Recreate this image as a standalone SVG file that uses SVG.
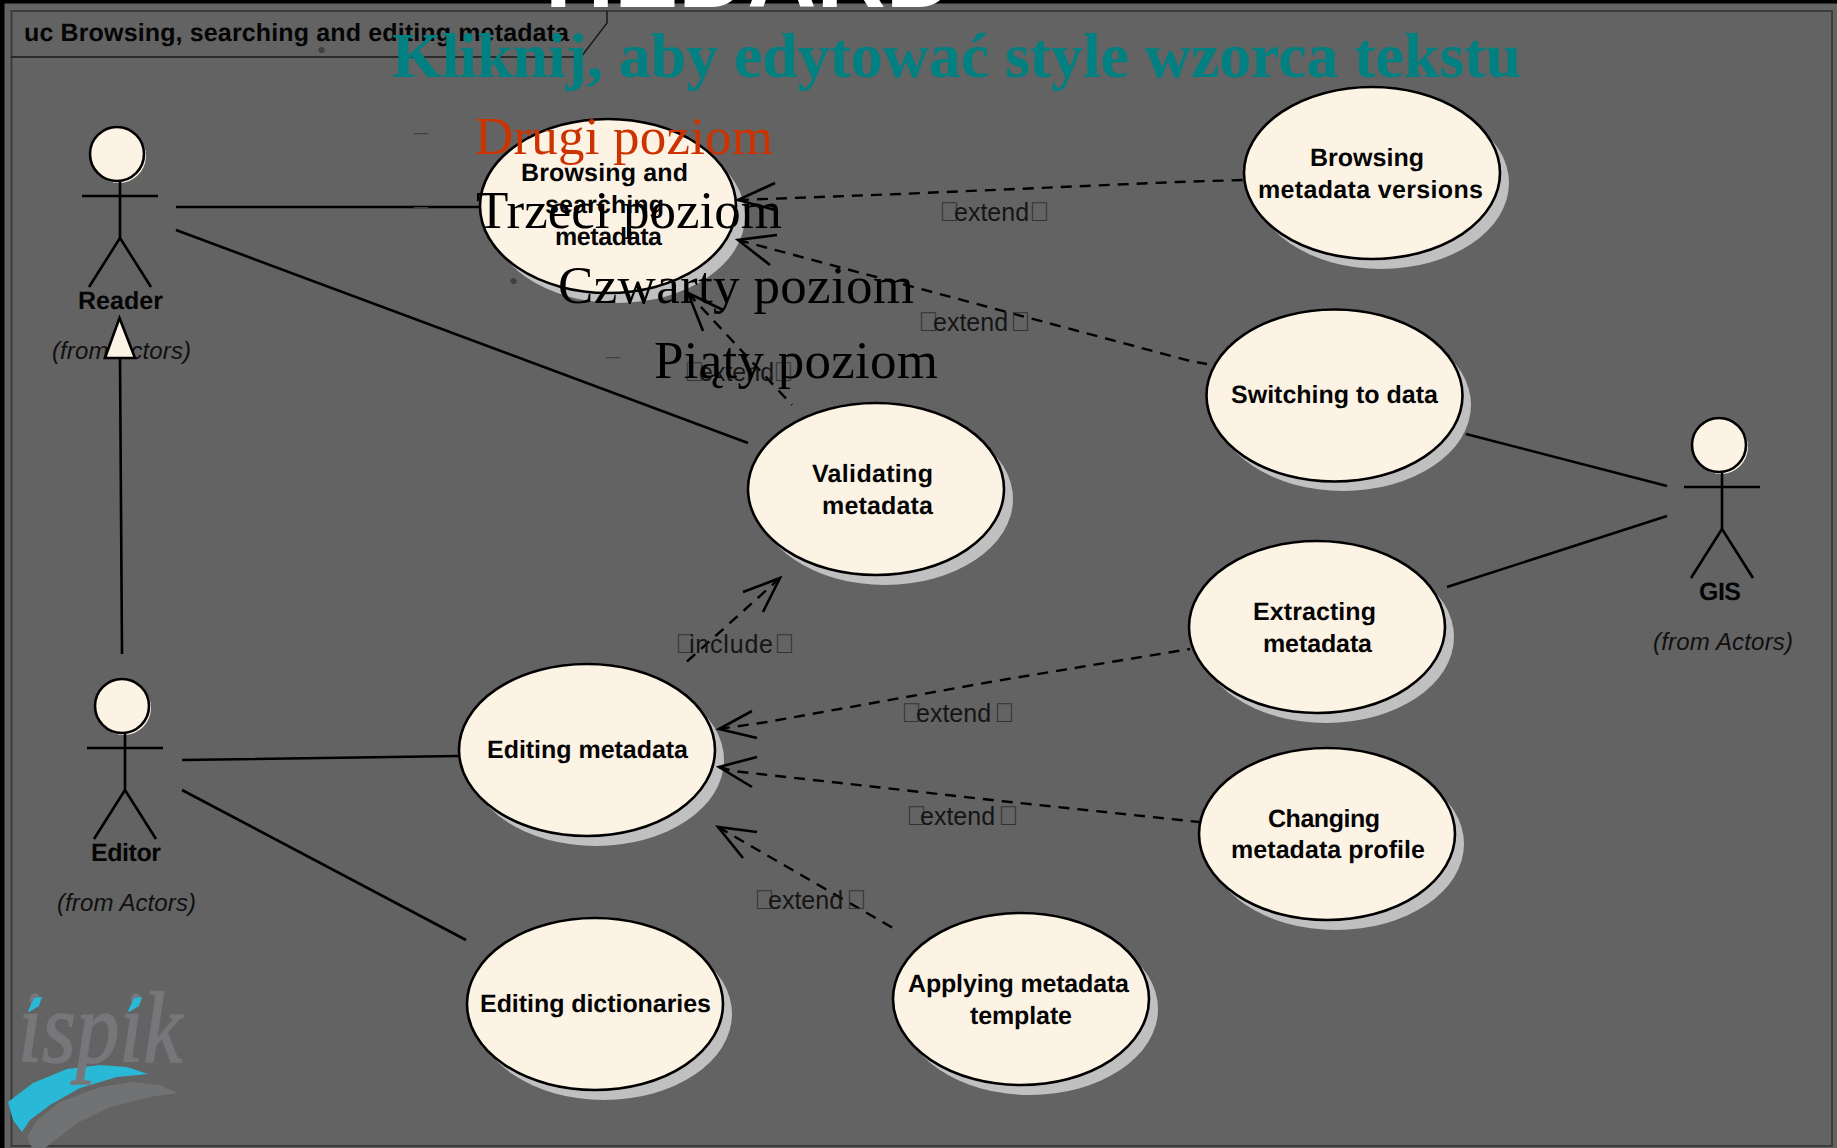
<svg xmlns="http://www.w3.org/2000/svg" width="1837" height="1148" viewBox="0 0 1837 1148">
<style>
text{font-family:"Liberation Sans",Arial,sans-serif;fill:#0c0c0c}
.uc{font-size:25px;font-weight:bold;fill:#050505;text-rendering:geometricPrecision}
.body{fill:#fdf3e5;stroke:#000;stroke-width:2.6}
.shadow{fill:#c0c0c0}
.line{fill:none;stroke:#000;stroke-width:2.6}
.dash{fill:none;stroke:#000;stroke-width:2.4;stroke-dasharray:11 8}
.arrow{fill:none;stroke:#000;stroke-width:2.6}
.lab{font-size:25px;fill:#151515}
.lab .t{font-size:27px;fill:#333}
.from{font-size:24px;font-style:italic;fill:#101010}
.ppt{font-family:"Liberation Serif","Times New Roman",serif;font-size:53px;fill:#000}
.bul{font-family:"Liberation Serif","Times New Roman",serif;fill:#404040}
</style>
<defs>
<g id="actor-shape">
<ellipse cx="2" cy="2" rx="27" ry="27" fill="#fdf3e5"/>
<ellipse cx="0" cy="0" rx="27" ry="27" class="body"/>
<path d="M3 28V84M-35 42H41M3 84L-28 133M3 84L34 133" class="line"/>
</g>
</defs>
<rect id="background" width="1837" height="1148" fill="#636363"/>
<path d="M0 0H1837V3.500H4.500V1148H0Z" fill="#000"/>
<text x="545" y="6.500" font-size="94" font-weight="bold" style="fill:#fff" textLength="410" lengthAdjust="spacingAndGlyphs">HEDARD</text>
<g id="frame">
<rect x="11.500" y="11" width="1820.500" height="1135" fill="none" stroke="#3c3c3c" stroke-width="2"/>
<path d="M11 57H581L607 23V11" fill="none" stroke="#1a1a1a" stroke-width="1.500"/>
<text x="24" y="41" class="uc" textLength="545">uc Browsing, searching and editing metadata</text>
</g>
<g id="logo">
<path d="M8 1102L33 1083L67 1069L100 1065L127 1067L148 1074L117 1077L80 1088L50 1105L30 1120L22 1132L13 1120Z" fill="#29b8d6"/>
<path d="M27 1137L37 1120L60 1102L100 1087L133 1082L160 1085L178 1093L150 1097L110 1107L77 1123L45 1148H32Z" fill="#717274"/>
<text x="18" y="1062" font-size="101" font-style="italic" style="font-family:'Liberation Serif',serif;fill:#76777a;stroke:#76777a;stroke-width:1.600" textLength="164" lengthAdjust="spacingAndGlyphs">ispik</text>
<path d="M28 1011L34 998L42 997L39 1006L29 1012ZM128 1011L134 998L142 997L139 1006L129 1012Z" fill="#29b8d6"/>
</g>
<g id="actor-reader">
<use href="#actor-shape" x="117" y="154"/>
<text x="78" y="309" class="uc" textLength="85">Reader</text>
<text x="52" y="359" class="from" textLength="139">(from Actors)</text>
</g>
<g id="actor-editor">
<use href="#actor-shape" x="122" y="706"/>
<text x="91" y="861" class="uc" textLength="70">Editor</text>
<text x="57" y="911" class="from" textLength="139">(from Actors)</text>
</g>
<g id="actor-gis">
<use href="#actor-shape" x="1719" y="445"/>
<text x="1699" y="600" class="uc" textLength="42">GIS</text>
<text x="1653" y="650" class="from" textLength="140">(from Actors)</text>
</g>
<g id="uc-browsing">
<ellipse class="shadow" cx="617" cy="216" rx="128" ry="87"/><ellipse class="body" cx="608" cy="206" rx="128" ry="87"/>
<text class="uc" x="521" y="181" textLength="167">Browsing and</text>
<text class="uc" x="545" y="213" textLength="119">searching</text>
<text class="uc" x="555" y="245" textLength="107">metadata</text>
</g>
<g id="uc-versions">
<ellipse class="shadow" cx="1381" cy="183" rx="128" ry="86"/><ellipse class="body" cx="1372" cy="173" rx="128" ry="86"/>
<text class="uc" x="1310" y="166" textLength="114">Browsing</text>
<text class="uc" x="1258" y="198" textLength="225">metadata versions</text>
</g>
<g id="uc-switching">
<ellipse class="shadow" cx="1343" cy="405" rx="128" ry="86"/><ellipse class="body" cx="1334.500" cy="395.500" rx="128" ry="86"/>
<text class="uc" x="1231" y="403" textLength="207">Switching to data</text>
</g>
<g id="uc-validating">
<ellipse class="shadow" cx="885" cy="499" rx="128" ry="86"/><ellipse class="body" cx="876" cy="489" rx="128" ry="86"/>
<text class="uc" x="812" y="482" textLength="121">Validating</text>
<text class="uc" x="822" y="514" textLength="111">metadata</text>
</g>
<g id="uc-extracting">
<ellipse class="shadow" cx="1326" cy="637" rx="128" ry="86"/><ellipse class="body" cx="1317" cy="627" rx="128" ry="86"/>
<text class="uc" x="1253" y="620" textLength="123">Extracting</text>
<text class="uc" x="1263" y="652" textLength="109">metadata</text>
</g>
<g id="uc-changing">
<ellipse class="shadow" cx="1336" cy="844" rx="128" ry="86"/><ellipse class="body" cx="1327" cy="834" rx="128" ry="86"/>
<text class="uc" x="1268" y="827" textLength="112">Changing</text>
<text class="uc" x="1231" y="858" textLength="194">metadata profile</text>
</g>
<g id="uc-editing">
<ellipse class="shadow" cx="596" cy="760" rx="128" ry="86"/><ellipse class="body" cx="587" cy="750" rx="128" ry="86"/>
<text class="uc" x="487" y="758" textLength="201">Editing metadata</text>
</g>
<g id="uc-dictionaries">
<ellipse class="shadow" cx="604" cy="1014" rx="128" ry="86"/><ellipse class="body" cx="595" cy="1004" rx="128" ry="86"/>
<text class="uc" x="480" y="1012" textLength="231">Editing dictionaries</text>
</g>
<g id="uc-applying">
<ellipse class="shadow" cx="1030" cy="1009" rx="128" ry="86"/><ellipse class="body" cx="1021" cy="999" rx="128" ry="86"/>
<text class="uc" x="908" y="992" textLength="221">Applying metadata</text>
<text class="uc" x="970" y="1024" textLength="102">template</text>
</g>
<g id="connectors">
<path class="line" d="M176 207H480M176 230L748 443M182 760L459 756M182 790L466 940M1466 434L1667 486M1447 587L1667 516M120 358L122 654"/>
<path class="dash" d="M738 200L900 194L1177 182L1243 180"/>
<path class="arrow" d="M775 183L738 200L775 210"/>
<path class="dash" d="M738 240L1190 361L1207 364"/>
<path class="arrow" d="M777 235L738 240L770 265"/>
<path class="dash" d="M688 293L792 405"/>
<path class="arrow" d="M703 331L688 293L723 310"/>
<path class="dash" d="M780 578L682 666"/>
<path class="arrow" d="M743 592L780 578L763 612"/>
<path class="dash" d="M719 729L767 722L990 682L1020 677L1190 649"/>
<path class="arrow" d="M752 711L719 729L757 738"/>
<path class="dash" d="M719 767L733 771L1010 802L1199 822"/>
<path class="arrow" d="M757 757L719 767L752 787"/>
<path class="dash" d="M718 827L893 928"/>
<path class="arrow" d="M757 832L718 827L743 858"/>
<path d="M119.500 318L135 358H105Z" class="body"/>
</g>
<g id="connector-labels">
<text class="lab" y="653"><tspan class="t" x="675">&#xF0AB;</tspan><tspan x="689" textLength="84">include</tspan><tspan class="t" x="774">&#xF0BB;</tspan></text>
<text class="lab" y="221"><tspan class="t" x="939">&#xF0AB;</tspan><tspan x="954">extend</tspan><tspan class="t" x="1029">&#xF0BB;</tspan></text>
<text class="lab" y="331"><tspan class="t" x="918">&#xF0AB;</tspan><tspan x="933">extend</tspan><tspan class="t" x="1010">&#xF0BB;</tspan></text>
<text class="lab" y="381"><tspan class="t" x="684">&#xF0AB;</tspan><tspan x="699">extend</tspan><tspan class="t" x="773">&#xF0BB;</tspan></text>
<text class="lab" y="722"><tspan class="t" x="901">&#xF0AB;</tspan><tspan x="916">extend</tspan><tspan class="t" x="994">&#xF0BB;</tspan></text>
<text class="lab" y="825"><tspan class="t" x="906">&#xF0AB;</tspan><tspan x="920">extend</tspan><tspan class="t" x="998">&#xF0BB;</tspan></text>
<text class="lab" y="909"><tspan class="t" x="754">&#xF0AB;</tspan><tspan x="768">extend</tspan><tspan class="t" x="846">&#xF0BB;</tspan></text>
</g>
<g id="placeholder-text">
<text class="bul" x="317" y="59" font-size="26">•</text>
<text class="bul" x="414" y="140" font-size="28">–</text>
<text class="bul" x="414" y="214" font-size="28">–</text>
<text class="bul" x="509" y="290" font-size="26">•</text>
<text class="bul" x="606" y="364" font-size="28">–</text>
<text x="392" y="77" style="font-family:'Liberation Serif',serif;font-size:64px;font-weight:bold;fill:#008080" textLength="1129">Kliknij, aby edytować style wzorca tekstu</text>
<text x="475" y="154" class="ppt" style="fill:#cc3300" textLength="298">Drugi poziom</text>
<text x="476" y="228" class="ppt" textLength="306">Trzeci poziom</text>
<text x="558" y="303" class="ppt" textLength="356">Czwarty poziom</text>
<text x="654" y="378" class="ppt" textLength="284">Piąty poziom</text>
</g>
</svg>
